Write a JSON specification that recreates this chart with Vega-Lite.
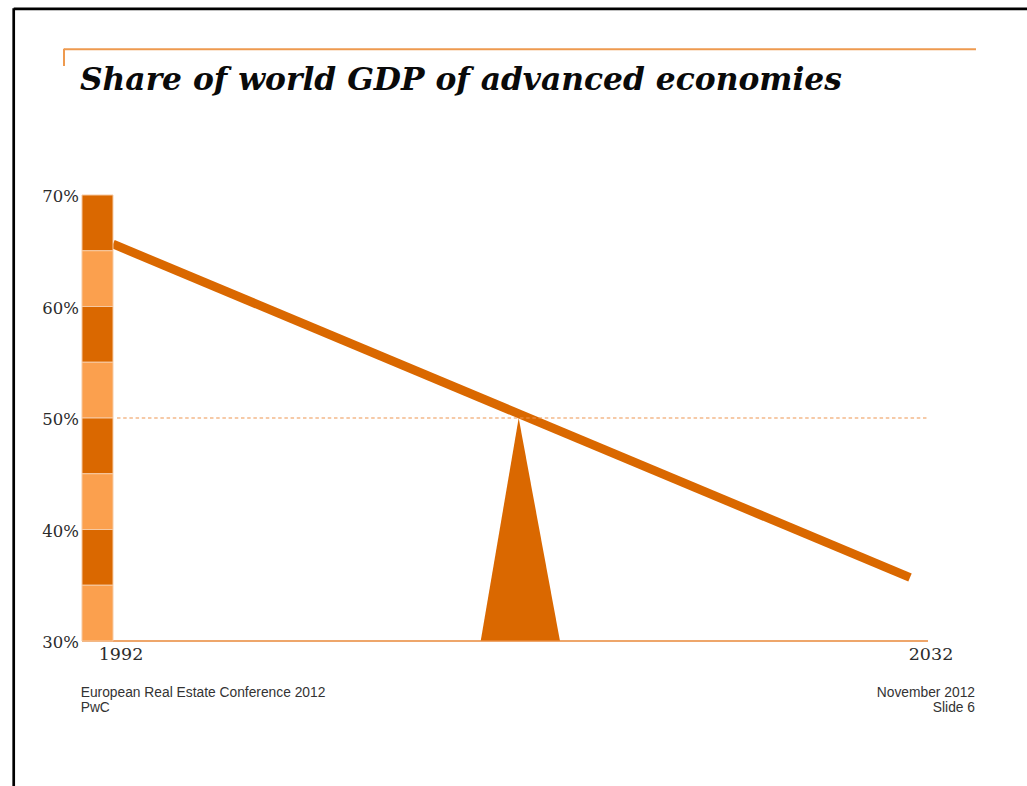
{
  "$schema": "https://vega.github.io/schema/vega-lite/v6.json",
  "width": 1027,
  "height": 786,
  "autosize": {"type": "none"},
  "padding": 0,
  "background": "white",
  "config": {"view": {"stroke": null}},
  "encoding": {
    "x": {"field": "year", "type": "quantitative", "scale": {"domain": [1986.329, 2037.872], "nice": false, "zero": false}, "axis": null},
    "y": {"field": "pct", "type": "quantitative", "scale": {"domain": [16.996, 87.489], "nice": false, "zero": false}, "axis": null}
  },
  "layer": [
    {
      "data": {"values": [
        {"year": 1987.017, "pct": 86.70, "year2": 2037.872, "pct2": 86.70},
        {"year": 1987.017, "pct": 86.76, "year2": 1987.017, "pct2": 16.996}
      ]},
      "mark": {"type": "rule", "color": "#000000", "strokeWidth": 2.7},
      "encoding": {"x2": {"field": "year2"}, "y2": {"field": "pct2"}}
    },
    {
      "data": {"values": [
        {"year": 1989.541, "pct": 83.07, "year2": 2035.312, "pct2": 83.07},
        {"year": 1989.541, "pct": 83.12, "year2": 1989.541, "pct2": 81.57}
      ]},
      "mark": {"type": "rule", "color": "#EE9A4F", "strokeWidth": 2},
      "encoding": {"x2": {"field": "year2"}, "y2": {"field": "pct2"}}
    },
    {
      "data": {"values": [{"year": 1990.344, "pct": 79.417, "label": "Share of world GDP of advanced economies"}]},
      "mark": {"type": "text", "align": "left", "baseline": "alphabetic", "font": "DejaVu Serif", "fontSize": 31.3, "fontWeight": "bold", "fontStyle": "italic", "color": "#0A0A0A"},
      "encoding": {"text": {"field": "label"}}
    },
    {
      "data": {"values": [{"year": 1992, "pct": 65.6}, {"year": 2032, "pct": 35.7}]},
      "mark": {"type": "line", "color": "#DA6800", "strokeWidth": 8.8, "strokeCap": "butt"},
      "encoding": {}
    },
    {
      "data": {"values": [{"year": 1992.2, "year2": 2032.903, "pct": 50}]},
      "mark": {"type": "rule", "color": "#EE9550", "strokeWidth": 1.2, "strokeDash": [3.5, 2.7]},
      "encoding": {"x2": {"field": "year2"}}
    },
    {
      "data": {"values": [{"year": 2010.454, "pct": 30, "base": 30}, {"year": 2012.361, "pct": 50, "base": 30}, {"year": 2014.434, "pct": 30, "base": 30}]},
      "mark": {"type": "area", "color": "#DA6800", "opacity": 1},
      "encoding": {"y2": {"field": "base"}}
    },
    {
      "data": {"values": [{"year": 1990.444, "year2": 2032.903, "pct": 30}]},
      "mark": {"type": "rule", "color": "#E8893A", "strokeWidth": 1.5},
      "encoding": {"x2": {"field": "year2"}}
    },
    {
      "data": {"values": [
        {"year": 1990.444, "year2": 1992, "pct": 70, "pct2": 65, "band": "dark"},
        {"year": 1990.444, "year2": 1992, "pct": 65, "pct2": 60, "band": "light"},
        {"year": 1990.444, "year2": 1992, "pct": 60, "pct2": 55, "band": "dark"},
        {"year": 1990.444, "year2": 1992, "pct": 55, "pct2": 50, "band": "light"},
        {"year": 1990.444, "year2": 1992, "pct": 50, "pct2": 45, "band": "dark"},
        {"year": 1990.444, "year2": 1992, "pct": 45, "pct2": 40, "band": "light"},
        {"year": 1990.444, "year2": 1992, "pct": 40, "pct2": 35, "band": "dark"},
        {"year": 1990.444, "year2": 1992, "pct": 35, "pct2": 30, "band": "light"}
      ]},
      "mark": {"type": "rect", "stroke": "#F6C9A2", "strokeWidth": 1, "opacity": 1},
      "encoding": {
        "x2": {"field": "year2"},
        "y2": {"field": "pct2"},
        "fill": {"field": "band", "type": "nominal", "scale": {"domain": ["dark", "light"], "range": ["#DA6800", "#FBA04E"]}, "legend": null}
      }
    },
    {
      "data": {"values": [
        {"year": 1990.444, "pct": 70, "label": "70%"},
        {"year": 1990.444, "pct": 60, "label": "60%"},
        {"year": 1990.444, "pct": 50, "label": "50%"},
        {"year": 1990.444, "pct": 40, "label": "40%"},
        {"year": 1990.444, "pct": 30, "label": "30%"}
      ]},
      "mark": {"type": "text", "align": "right", "baseline": "middle", "dx": -3, "dy": 2, "font": "DejaVu Serif", "fontSize": 16.5, "color": "#2B2B2B"},
      "encoding": {"text": {"field": "label"}}
    },
    {
      "data": {"values": [{"year": 1992, "pct": 30, "label": "1992"}]},
      "mark": {"type": "text", "align": "center", "baseline": "middle", "dx": 8, "dy": 14, "font": "DejaVu Serif", "fontSize": 17.5, "color": "#2B2B2B"},
      "encoding": {"text": {"field": "label"}}
    },
    {
      "data": {"values": [{"year": 2032, "pct": 30, "label": "2032"}]},
      "mark": {"type": "text", "align": "center", "baseline": "middle", "dx": 21, "dy": 14, "font": "DejaVu Serif", "fontSize": 17.5, "color": "#2B2B2B"},
      "encoding": {"text": {"field": "label"}}
    },
    {
      "data": {"values": [
        {"year": 1990.379, "pct": 25.0, "label": "European Real Estate Conference 2012"},
        {"year": 1990.379, "pct": 23.63, "label": "PwC"}
      ]},
      "mark": {"type": "text", "align": "left", "baseline": "alphabetic", "font": "Liberation Sans", "fontSize": 13.8, "color": "#333333"},
      "encoding": {"text": {"field": "label"}}
    },
    {
      "data": {"values": [
        {"year": 2035.262, "pct": 25.0, "label": "November 2012"},
        {"year": 2035.262, "pct": 23.63, "label": "Slide 6"}
      ]},
      "mark": {"type": "text", "align": "right", "baseline": "alphabetic", "font": "Liberation Sans", "fontSize": 13.8, "color": "#333333"},
      "encoding": {"text": {"field": "label"}}
    }
  ]
}
